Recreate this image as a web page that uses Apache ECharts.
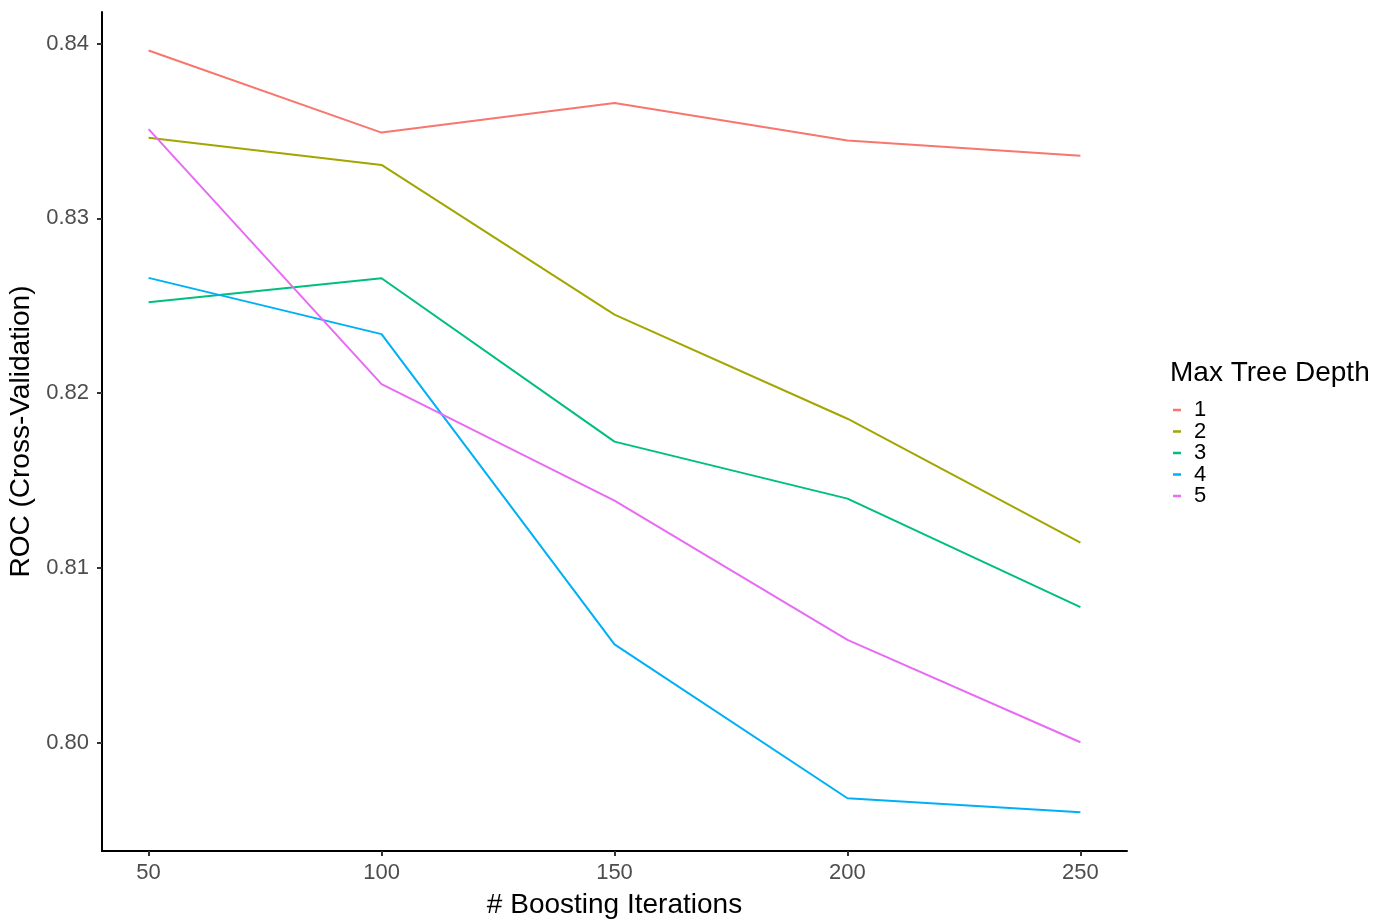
<!DOCTYPE html>
<html>
<head>
<meta charset="utf-8">
<script src="https://cdn.jsdelivr.net/npm/echarts@6/dist/echarts.min.js"></script>
<style>html,body{margin:0;padding:0;background:#fff;}#c{width:1391px;height:922px;}</style>
</head>
<body>
<div id="c"></div>
<script>
const iterations = [50, 100, 150, 200, 250];
const depthNames = ['1', '2', '3', '4', '5'];
const depth1 = [0.83960, 0.83490, 0.83660, 0.83445, 0.83358];
const depth2 = [0.83460, 0.83305, 0.82449, 0.81853, 0.81144];
const depth3 = [0.82519, 0.82657, 0.81722, 0.81396, 0.80775];
const depth4 = [0.82659, 0.82337, 0.80562, 0.79682, 0.79602];
const depth5 = [0.83510, 0.82051, 0.81384, 0.80588, 0.80002];
const xTicks = [50, 100, 150, 200, 250];
const yTicks = [0.80, 0.81, 0.82, 0.83, 0.84];
const colors = ['#F8766D', '#A3A500', '#00BF7D', '#00B0F6', '#E76BF3'];

const allSeries = [depth1, depth2, depth3, depth4, depth5];
const chart = echarts.init(document.getElementById('c'), null, {renderer: 'canvas'});
const font = 'Liberation Sans, Arial, sans-serif';
chart.setOption({
  animation: false,
  backgroundColor: '#fff',
  grid: {left: 102, right: 264, top: 12, bottom: 71, containLabel: false, outerBoundsMode: 'none'},
  xAxis: {
    type: 'value', min: 40, max: 260,
    name: '# Boosting Iterations', nameLocation: 'middle', nameGap: 40,
    nameTextStyle: {fontFamily: font, fontSize: 28, color: '#000'},
    axisLine: {show: true, lineStyle: {color: '#000', width: 2}},
    axisTick: {show: true, length: 5, lineStyle: {color: '#333', width: 2}, customValues: xTicks},
    axisLabel: {fontFamily: font, fontSize: 22, color: '#4D4D4D', margin: 11, customValues: xTicks},
    splitLine: {show: false}
  },
  yAxis: {
    type: 'value', min: 0.7938, max: 0.8418,
    name: 'ROC (Cross-Validation)', nameLocation: 'middle', nameGap: 59, nameRotate: 90,
    nameTextStyle: {fontFamily: font, fontSize: 28, color: '#000'},
    axisLine: {show: true, lineStyle: {color: '#000', width: 2}},
    axisTick: {show: true, length: 5, lineStyle: {color: '#333', width: 2}, customValues: yTicks},
    axisLabel: {fontFamily: font, fontSize: 22, color: '#4D4D4D', margin: 13, customValues: yTicks,
      formatter: v => v.toFixed(2)},
    splitLine: {show: false}
  },
  legend: {
    orient: 'vertical', left: 1168, top: 394,
    icon: 'rect', itemWidth: 8, itemHeight: 2.5, itemGap: -0.5,
    textStyle: {fontFamily: font, fontSize: 22, color: '#000', lineHeight: 20, padding: [0, 0, 0, 8]},
    data: depthNames
  },
  graphic: [{
    type: 'text', left: 1170, top: 359,
    style: {text: 'Max Tree Depth', font: '28px ' + font, fill: '#000'}
  }],
  series: allSeries.map((vals, i) => ({
    name: depthNames[i], type: 'line',
    data: iterations.map((x, j) => [x, vals[j]]),
    showSymbol: false, symbol: 'none',
    lineStyle: {color: colors[i], width: 2},
    itemStyle: {color: colors[i]}
  }))
});
</script>
</body>
</html>
